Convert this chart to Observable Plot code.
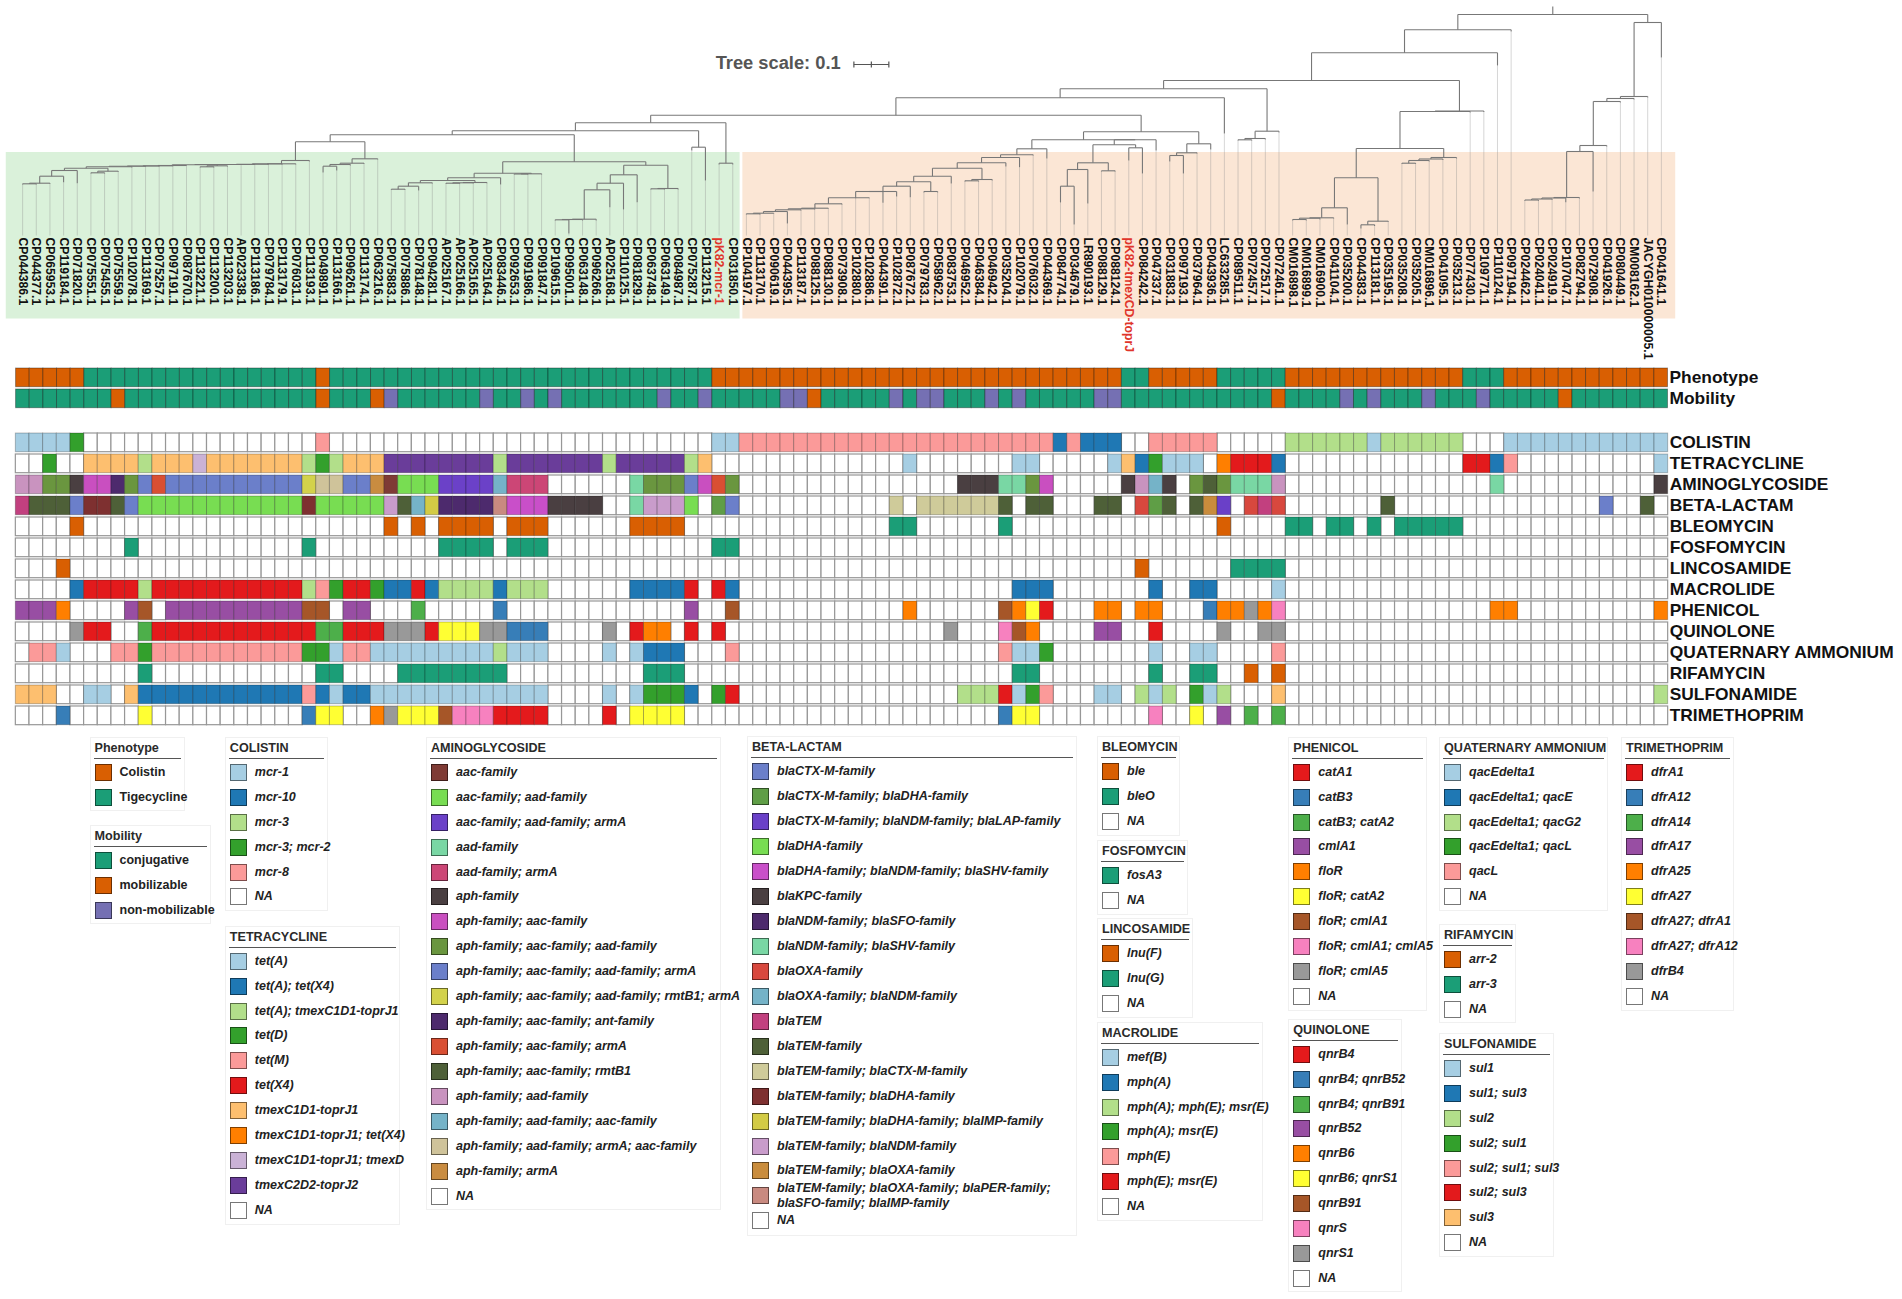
<!DOCTYPE html>
<html>
<head>
<meta charset="utf-8">
<script src="https://cdn.jsdelivr.net/npm/d3@7"></script>
<script src="https://cdn.jsdelivr.net/npm/@observablehq/plot@0.6"></script>
<style>
  html,body{margin:0;padding:0;background:#fff}
  #page{position:relative;width:1902px;height:1299px;font-family:"Liberation Sans",Arial,sans-serif;overflow:hidden}
  .slot{position:absolute;left:0}
  .panel{position:absolute;border:1px solid #f0f0f0;box-sizing:border-box;background:#fff}
  .panel .ttl{position:absolute;left:4px;top:2px;font:bold 12.6px/16px "Liberation Sans",Arial,sans-serif;color:#2a2a2a;white-space:nowrap}
  .panel .rule{position:absolute;left:3px;right:3px;top:20px;height:1px;background:#555}
  .panel .sw{position:absolute;left:4px;width:17px;height:17px;box-sizing:border-box;border:1.5px solid rgba(0,0,0,.5)}
  .panel .sw.na{border-color:#777}
  .panel .lb{position:absolute;left:29px;font:bold 12.5px/15px "Liberation Sans",Arial,sans-serif;color:#222;white-space:nowrap}
  .panel.it .lb{font-style:italic}
</style>
</head>
<body>
<div id="page"></div>
<script>
// ---------- tips (left to right) ----------
const tips = ["CP044386.1","CP044377.1","CP065953.1","CP119184.1","CP071820.1","CP075551.1","CP075455.1","CP075559.1","CP102078.1","CP113169.1","CP075257.1","CP097191.1","CP087670.1","CP113221.1","CP113200.1","CP113203.1","AP023338.1","CP113186.1","CP079784.1","CP113179.1","CP076031.1","CP113193.1","CP049891.1","CP113166.1","CP096261.1","CP113174.1","CP063216.1","CP075883.1","CP075886.1","CP078148.1","CP094281.1","AP025167.1","AP025166.1","AP025165.1","AP025164.1","CP083446.1","CP092653.1","CP091986.1","CP091847.1","CP109615.1","CP095001.1","CP063148.1","CP096266.1","AP025168.1","CP110125.1","CP081829.1","CP063748.1","CP063149.1","CP084987.1","CP075287.1","CP113215.1","pK82-mcr-1","CP031850.1","CP104197.1","CP113170.1","CP090619.1","CP044395.1","CP113187.1","CP088125.1","CP088130.1","CP073908.1","CP102880.1","CP102886.1","CP044391.1","CP102872.1","CP087672.1","CP079783.1","CP058962.1","CP083753.1","CP046952.1","CP046384.1","CP046942.1","CP035204.1","CP102079.1","CP076032.1","CP044369.1","CP084774.1","CP034679.1","LR890193.1","CP088129.1","CP088124.1","pK82-tmexCD-toprJ","CP084242.1","CP047337.1","CP031883.1","CP097193.1","CP037964.1","CP043936.1","LC633285.1","CP089511.1","CP072457.1","CP072517.1","CP072461.1","CM016898.1","CM016899.1","CM016900.1","CP041104.1","CP035200.1","CP044383.1","CP113181.1","CP035195.1","CP035208.1","CP035205.1","CM016896.1","CP041095.1","CP035213.1","CP077430.1","CP109771.1","CP110124.1","CP097194.1","CP024462.1","CP024041.1","CP024919.1","CP107047.1","CP082794.1","CP072908.1","CP041926.1","CP080449.1","CM008162.1","JACYGH010000005.1","CP041641.1"];
const referenceTips = ["pK82-mcr-1","pK82-tmexCD-toprJ"];

// ---------- tree: [node depth, child, child...]; a bare number is a tip's end depth ----------
const c01 = [182.7,[183.3,184,184],183.5];
const c4 = [170,[175.7,c01,181.7],182.7];
const c7 = [170.7,[172.3,173,173],171.5];
const c8 = [166.3,[167.7,c4,c7],167];
const c12 = [165,[165.3,[165.5,[165.7,c8,166.2],166],165.8],165.5];
const c15 = [165.3,[166.3,167,167],166];
const cladeS1 = [160,[163.3,[163.3,[163.7,[164,[164,[164.3,c12,c15],164.6],164.5],164.2],163.9],164],161];
const cladeS2 = [158.3,[162.7,[164,[165.7,172,170],165],163.5],159];
const cladeZ = [172.7,[177.3,[180,[182.3,[185.7,[188.7,189.5,189.5],190],183],[182,[182.3,[182.7,183.5,183.5],183],182.7]],184],[173.3,[173.5,174,174],174]];
const cladeV = [164.7,[174.3,[182.7,[189.3,[218.7,[219,[219.3,220,233],220],220],206.7],209],201.7],[188,[188.3,189,189],189]];
const nodeQ = [130.3,[134.3,[141.3,cladeS1,cladeS2],[161.3,cladeZ,cladeV]],[146.7,150,180]];
const nodeP = [122.3,nodeQ,[162.7,164,164]];

const c65 = [185.7,[191,[191,[197.3,[203.3,[207.7,[208.3,[209.3,[211,[212.7,[213.3,214,214],213.3],223],210],209],208.3],204],197.8,197.8],202.3],196],196.7];
const c68 = [175.7,[181.3,c65,[191,192,192]],183];
const c75 = [148.3,[154.3,[157,[162.3,[167.7,c68,[179,[180.3,181,181],180]],166],166.7],155],158];
const c80 = [162.3,[169,[185.7,202,224],203],[170.3,171,171]];
const c83 = [139.3,[144.3,c80,[147.3,160,173]],150];
const c87 = [143.3,[152.3,[155,161,173],153],149];
const node987 = [131.3,[139.3,c75,c83],c87];
const node806 = [97.3,[114.7,nodeP,node987],133];
const node1269 = [130.7,[138,[139.3,140,140],139],132];
const c97 = [207.3,[217.3,[217.7,[219,220,220],219],218],224];
const c100 = [220.7,[224.3,228,225.5],221.5];
const c105 = [157,[158.5,[160,[162.7,163.5,163.5],161],159.5],158];
const node415 = [110.5,[111,[148,[177.3,c97,c100],c105],112],111.5];
const nodeL1 = [29.3,[52.3,[80,[88.3,node806,node1269],node415],65],31];
const c114 = [197,[197.5,[198.5,[199.5,200.3,200.3],199.3],201.7],198];
const nodeR = [22,[96,[98,[101,[145,[151,c114,191],146],102],99],97],57];
const treeRoot = [14,nodeL1,nodeR];
const rootStubTop = 6;
const leaderEnd = 235, labelTop = 237;

// clade tints
const tints = [
  {x1:-1.2, x2:52.54, y1:152, y2:318.5, fill:"#daf1da"},
  {x1:52.74, x2:121.05, y1:152, y2:318.5, fill:"#fbe6d5"}
];
// tree scale annotation
const scaleBar = {x1:60.87, x2:63.43, y:64, tick:3};
const scaleLabel = {x:50.75, y:63, text:"Tree scale: 0.1"};

// ---------- categories ----------
const dark2 = {orange:"#d95f02", green:"#1b9e77", purple:"#7570b3"};
const paired = ["#a6cee3","#1f78b4","#b2df8a","#33a02c","#fb9a99","#e31a1c","#fdbf6f","#ff7f00","#cab2d6","#6a3d9a"];
const set1 = ["#e41a1c","#377eb8","#4daf4a","#984ea3","#ff7f00","#ffff33","#a65628","#f781bf","#999999"];

const phenotypeCats = ["Colistin","Tigecycline"];
const mobilityCats = ["conjugative","mobilizable","non-mobilizable"];
const colistinCats = ["mcr-1","mcr-10","mcr-3","mcr-3; mcr-2","mcr-8"];
const tetraCats = ["tet(A)","tet(A); tet(X4)","tet(A); tmexC1D1-toprJ1","tet(D)","tet(M)","tet(X4)","tmexC1D1-toprJ1","tmexC1D1-toprJ1; tet(X4)","tmexC1D1-toprJ1; tmexD","tmexC2D2-toprJ2"];
const aminoCats = ["aac-family","aac-family; aad-family","aac-family; aad-family; armA","aad-family","aad-family; armA","aph-family","aph-family; aac-family","aph-family; aac-family; aad-family","aph-family; aac-family; aad-family; armA","aph-family; aac-family; aad-family; rmtB1; armA","aph-family; aac-family; ant-family","aph-family; aac-family; armA","aph-family; aac-family; rmtB1","aph-family; aad-family","aph-family; aad-family; aac-family","aph-family; aad-family; armA; aac-family","aph-family; armA"];
const aminoColors = ["#7f3b35","#78dd52","#6b41c8","#79d7a4","#cc4676","#4a3f41","#c94fc0","#6a963f","#6b7fca","#d3d24b","#4d2a6d","#d94f33","#4e6038","#c993bf","#75b3c8","#cfc39a","#c98c40"];
const betaCats = ["blaCTX-M-family","blaCTX-M-family; blaDHA-family","blaCTX-M-family; blaNDM-family; blaLAP-family","blaDHA-family","blaDHA-family; blaNDM-family; blaSHV-family","blaKPC-family","blaNDM-family; blaSFO-family","blaNDM-family; blaSHV-family","blaOXA-family","blaOXA-family; blaNDM-family","blaTEM","blaTEM-family","blaTEM-family; blaCTX-M-family","blaTEM-family; blaDHA-family","blaTEM-family; blaDHA-family; blaIMP-family","blaTEM-family; blaNDM-family","blaTEM-family; blaOXA-family","blaTEM-family; blaOXA-family; blaPER-family;\nblaSFO-family; blaIMP-family"];
const betaColors = ["#6b7fca","#5f9e46","#6a40c8","#78dd52","#c94fc9","#4a3f41","#4d2a6d","#79d7a4","#d8483e","#75b3c8","#c2407f","#4e6038","#cfcb9a","#7e3030","#d3cb45","#c99ccb","#c98c3c","#c98a80"];
const bleoCats = ["ble","bleO"];
const fosfoCats = ["fosA3"];
const lincoCats = ["lnu(F)","lnu(G)"];
const macroCats = ["mef(B)","mph(A)","mph(A); mph(E); msr(E)","mph(A); msr(E)","mph(E)","mph(E); msr(E)"];
const phenicolCats = ["catA1","catB3","catB3; catA2","cmlA1","floR","floR; catA2","floR; cmlA1","floR; cmlA1; cmlA5","floR; cmlA5"];
const quinoCats = ["qnrB4","qnrB4; qnrB52","qnrB4; qnrB91","qnrB52","qnrB6","qnrB6; qnrS1","qnrB91","qnrS","qnrS1"];
const quatCats = ["qacEdelta1","qacEdelta1; qacE","qacEdelta1; qacG2","qacEdelta1; qacL","qacL"];
const rifCats = ["arr-2","arr-3"];
const sulfCats = ["sul1","sul1; sul3","sul2","sul2; sul1","sul2; sul1; sul3","sul2; sul3","sul3"];
const trimCats = ["dfrA1","dfrA12","dfrA14","dfrA17","dfrA25","dfrA27","dfrA27; dfrA1","dfrA27; dfrA12","dfrB4"];

// ---------- values: [category index, first column, last column]; uncovered columns are NA ----------
const phenotypeSpans = [[0,0,4],[1,5,21],[0,22,22],[1,23,50],[0,51,80],[1,81,82],[0,83,87],[1,88,92],[0,93,105],[1,106,108],[0,109,120]];
const mobilitySpans = [[0,0,120],[1,7,7],[1,22,22],[1,26,26],[2,27,27],[2,34,34],[2,37,37],[2,39,39],[2,47,47],[2,50,50],[2,56,57],[1,58,58],[2,64,64],[2,66,67],[2,71,71],[2,73,73],[2,79,80],[1,92,92],[2,97,97],[2,99,99],[2,103,103],[2,107,107],[1,113,113]];
const colistinSpans = [[0,0,3],[3,4,4],[4,22,22],[0,51,52],[4,53,75],[1,76,76],[4,77,77],[1,78,80],[4,83,87],[2,93,98],[0,99,99],[2,100,105],[0,109,120]];
const tetraSpans = [[3,2,2],[6,5,8],[2,9,9],[6,10,12],[8,13,13],[6,14,20],[2,21,21],[3,22,22],[2,23,23],[6,24,26],[9,27,34],[2,35,35],[9,36,42],[2,43,43],[9,44,48],[2,49,49],[6,50,50],[0,65,65],[0,73,74],[0,80,80],[6,81,81],[1,82,82],[3,83,83],[0,84,86],[7,88,88],[5,89,91],[1,92,92],[5,106,107],[1,108,108],[4,109,109],[0,120,120]];
const aminoSpans = [[13,0,1],[7,2,3],[5,4,4],[6,5,6],[10,7,7],[7,8,8],[8,9,9],[11,10,10],[8,11,20],[9,21,21],[15,22,23],[8,24,25],[16,26,26],[0,27,27],[1,28,30],[2,31,34],[14,35,35],[4,36,38],[3,45,45],[7,46,48],[8,49,49],[6,50,50],[11,51,51],[7,52,52],[5,69,71],[3,72,73],[7,74,74],[6,75,75],[5,81,81],[13,82,82],[14,83,83],[5,84,84],[7,86,86],[12,87,87],[7,88,88],[3,89,91],[13,92,92],[3,108,108],[5,120,120]];
const betaSpans = [[10,0,0],[11,1,3],[0,4,4],[13,5,6],[11,7,7],[0,8,8],[3,9,20],[13,21,21],[3,22,26],[15,27,27],[11,28,28],[9,29,29],[14,30,30],[6,31,34],[17,35,35],[4,36,38],[5,39,42],[7,45,45],[15,46,48],[3,49,49],[1,51,51],[0,52,52],[12,64,64],[12,66,71],[11,72,72],[11,74,75],[11,79,80],[8,82,82],[1,83,83],[11,84,84],[11,86,86],[16,87,87],[2,88,88],[8,90,90],[10,91,91],[8,92,92],[11,100,100],[0,116,116],[11,119,119]];
const bleoSpans = [[0,4,4],[0,27,27],[0,29,29],[0,31,34],[0,36,38],[0,45,48],[1,64,65],[1,72,72],[0,88,88],[1,93,94],[1,96,97],[1,99,99],[1,101,105]];
const fosfoSpans = [[0,8,8],[0,21,21],[0,31,34],[0,36,38],[0,51,52]];
const lincoSpans = [[0,3,3],[0,82,82],[1,89,92]];
const macroSpans = [[1,4,4],[5,5,8],[2,9,9],[5,10,20],[2,21,21],[4,22,22],[3,23,23],[5,24,25],[3,26,26],[1,27,28],[5,29,29],[1,30,30],[2,31,34],[1,35,35],[2,36,38],[1,45,48],[5,49,49],[5,51,51],[1,52,52],[1,73,75],[1,83,83],[1,86,87],[0,92,92]];
const phenicolSpans = [[3,0,2],[4,3,3],[3,8,8],[6,9,9],[3,11,20],[6,21,22],[3,24,25],[2,29,29],[1,35,35],[3,49,49],[6,52,52],[4,65,65],[6,72,72],[4,73,73],[5,74,74],[0,75,75],[4,79,80],[4,82,83],[1,87,87],[4,88,89],[8,90,90],[4,91,91],[7,92,92],[4,108,109],[4,120,120]];
const quinoSpans = [[8,4,4],[0,5,6],[2,9,9],[0,10,21],[2,22,23],[0,24,26],[8,27,29],[0,30,30],[5,31,33],[8,34,35],[1,36,38],[8,43,43],[0,45,45],[4,46,47],[0,49,49],[0,51,51],[8,68,68],[7,72,72],[6,73,73],[4,74,74],[3,79,80],[0,83,83],[8,88,88],[8,91,92]];
const quatSpans = [[4,1,2],[0,3,3],[4,7,8],[3,9,9],[4,10,20],[3,21,22],[0,23,23],[4,24,25],[0,26,34],[2,35,35],[0,36,38],[0,43,43],[0,45,45],[1,46,48],[4,52,52],[4,72,72],[0,73,74],[3,75,75],[0,83,83],[0,86,87],[4,92,92]];
const rifSpans = [[1,9,9],[1,22,23],[1,28,35],[1,46,48],[1,73,74],[1,83,83],[1,86,87],[0,90,90],[0,92,92]];
const sulfSpans = [[6,0,2],[0,5,6],[6,8,8],[1,9,20],[4,21,21],[1,22,22],[0,23,23],[1,24,25],[0,26,38],[0,43,43],[0,45,45],[3,46,48],[1,49,49],[3,51,51],[5,52,52],[2,69,71],[5,72,72],[0,73,73],[3,74,74],[4,75,75],[0,79,80],[2,82,82],[0,83,83],[2,84,84],[3,86,86],[0,87,87],[2,88,88],[6,92,92],[2,120,120]];
const trimSpans = [[1,3,3],[5,9,9],[1,21,21],[5,22,23],[4,26,26],[8,27,27],[5,28,30],[6,31,31],[7,32,34],[0,35,38],[0,43,43],[5,45,48],[1,72,72],[5,73,74],[7,83,83],[5,86,86],[3,88,88],[2,90,90],[2,92,92]];

// row tables
const annotRows = [
  {row:"Phenotype",cats:phenotypeCats,colors:[dark2.orange,dark2.green],spans:phenotypeSpans},
  {row:"Mobility",cats:mobilityCats,colors:[dark2.green,dark2.orange,dark2.purple],spans:mobilitySpans}
];
const amrRows = [
  {row:"COLISTIN",cats:colistinCats,colors:paired,spans:colistinSpans},
  {row:"TETRACYCLINE",cats:tetraCats,colors:paired,spans:tetraSpans},
  {row:"AMINOGLYCOSIDE",cats:aminoCats,colors:aminoColors,spans:aminoSpans},
  {row:"BETA-LACTAM",cats:betaCats,colors:betaColors,spans:betaSpans},
  {row:"BLEOMYCIN",cats:bleoCats,colors:[dark2.orange,dark2.green],spans:bleoSpans},
  {row:"FOSFOMYCIN",cats:fosfoCats,colors:[dark2.green],spans:fosfoSpans},
  {row:"LINCOSAMIDE",cats:lincoCats,colors:[dark2.orange,dark2.green],spans:lincoSpans},
  {row:"MACROLIDE",cats:macroCats,colors:paired,spans:macroSpans},
  {row:"PHENICOL",cats:phenicolCats,colors:set1,spans:phenicolSpans},
  {row:"QUINOLONE",cats:quinoCats,colors:set1,spans:quinoSpans},
  {row:"QUATERNARY AMMONIUM",cats:quatCats,colors:paired,spans:quatSpans},
  {row:"RIFAMYCIN",cats:rifCats,colors:[dark2.orange,dark2.green],spans:rifSpans},
  {row:"SULFONAMIDE",cats:sulfCats,colors:paired,spans:sulfSpans},
  {row:"TRIMETHOPRIM",cats:trimCats,colors:set1,spans:trimSpans}
];

// legend panel layout
const legendPanels = [
  {name:"Phenotype",x:89.5,y:736.7,w:95.5,h:74.6,step:24.9,italic:false,na:false},
  {name:"Mobility",x:89.5,y:824.7,w:121,h:99.3,step:24.9,italic:false,na:false},
  {name:"COLISTIN",x:224.8,y:736.7,w:103.7,h:174.6,step:24.93},
  {name:"TETRACYCLINE",x:224.8,y:925.7,w:175.7,h:299.3,step:24.9},
  {name:"AMINOGLYCOSIDE",x:426,y:736.7,w:295,h:473.6,step:24.94},
  {name:"BETA-LACTAM",x:747,y:736.2,w:330,h:499.4,step:24.95},
  {name:"BLEOMYCIN",x:1097,y:736.2,w:83,h:99.9,step:24.87},
  {name:"FOSFOMYCIN",x:1097,y:840.2,w:91.2,h:75.1,step:24.87},
  {name:"LINCOSAMIDE",x:1097,y:918,w:95.5,h:99.9,step:24.87},
  {name:"MACROLIDE",x:1097,y:1021.7,w:166,h:199.4,step:24.87},
  {name:"PHENICOL",x:1288.3,y:736.5,w:138.7,h:274.3,step:24.96},
  {name:"QUINOLONE",x:1288.3,y:1018.5,w:114,h:273.9,step:24.96},
  {name:"QUATERNARY AMMONIUM",x:1439,y:736.5,w:169.3,h:174.9,step:24.96},
  {name:"RIFAMYCIN",x:1439,y:924,w:77,h:99,step:24.96},
  {name:"SULFONAMIDE",x:1439,y:1032.6,w:115.3,h:224.6,step:24.96},
  {name:"TRIMETHOPRIM",x:1621,y:736.5,w:113.3,h:274.3,step:24.96}
];

// ---------- shared layout ----------
const W = 1902, gridLeft = 15.3, gridRight = 1667.7;
const marginRight = W - gridRight;
const font = '"Liberation Sans",Arial,sans-serif';
const page = document.getElementById("page");
function place(el, top){ const d=document.createElement("div"); d.className="slot"; d.style.top=top+"px"; d.appendChild(el); page.appendChild(d); }

// ---------- tree ----------
const branches = [], leaders = [];
let nextTip = 0;
function layout(node, parentDepth){
  if (typeof node === "number"){
    const x = nextTip++;
    branches.push({x1:x,y1:parentDepth,x2:x,y2:node});
    leaders.push({x1:x,y1:node,x2:x,y2:leaderEnd});
    return x;
  }
  const d = node[0];
  const xs = node.slice(1).map(c=>layout(c,d));
  const x = xs.length%2 ? xs[(xs.length-1)/2] : (xs[0]+xs[xs.length-1])/2;
  branches.push({x1:xs[0],y1:d,x2:xs[xs.length-1],y2:d});
  branches.push({x1:x,y1:parentDepth,x2:x,y2:d});
  return x;
}
layout(treeRoot, rootStubTop);
if (nextTip !== tips.length) console.error("tip count", nextTip);

const labels = tips.map((t,i)=>({t,i,ref:referenceTips.includes(t)}));
const treePlot = Plot.plot({
  width:W, height:366, marginLeft:gridLeft, marginRight, marginTop:0, marginBottom:0,
  style:{fontFamily:font, background:"transparent"},
  x:{type:"linear",domain:[-0.5,120.5],axis:null},
  y:{type:"linear",domain:[0,366],range:[0,366],axis:null},
  marks:[
    Plot.rect(tints,{x1:"x1",x2:"x2",y1:"y1",y2:"y2",fill:"fill"}),
    Plot.link(leaders,{x1:"x1",y1:"y1",x2:"x2",y2:"y2",stroke:"#8d8d8d",strokeOpacity:.4,strokeWidth:.9}),
    Plot.link(branches,{x1:"x1",y1:"y1",x2:"x2",y2:"y2",stroke:"#777",strokeWidth:1.1}),
    Plot.text(labels,{x:"i",y:()=>labelTop,text:"t",rotate:90,textAnchor:"start",fontSize:12.2,fontWeight:"bold",
      fill:d=>d.ref?"#e0352b":"#111"}),
    Plot.text([scaleLabel],{x:"x",y:"y",text:"text",textAnchor:"start",fontSize:18.3,fontWeight:"bold",fill:"#555"}),
    Plot.link([scaleBar],{x1:"x1",x2:"x2",y1:"y",y2:"y",stroke:"#555",strokeWidth:1.2}),
    Plot.link([scaleBar.x1,(scaleBar.x1+scaleBar.x2)/2,scaleBar.x2],{x1:d=>d,x2:d=>d,y1:scaleBar.y-scaleBar.tick,y2:scaleBar.y+scaleBar.tick,stroke:"#555",strokeWidth:1.2})
  ]
});
place(treePlot,0);

// ---------- heat rows ----------
function expand(rows){
  const out=[];
  for(const r of rows){
    const col = new Array(tips.length).fill(null);
    for(const [c,a,b] of r.spans) for(let i=a;i<=b;i++) col[i]=c;
    col.forEach((c,i)=>out.push({tip:i+":"+tips[i],row:r.row,cat:c,key:c===null?"NA":r.row+"|"+r.cats[c]}));
  }
  return out;
}
const colorDomain=[], colorRange=[];
for(const r of [...annotRows,...amrRows]) r.cats.forEach((c,i)=>{colorDomain.push(r.row+"|"+c);colorRange.push(r.colors[i]);});
const xDomain = tips.map((t,i)=>i+":"+t);

function heat(rows, opts){
  const cells = expand(rows);
  const step = 21, gap = 2.3;
  const pad = 2;
  const h = rows.length*step - gap + pad*2;
  return Plot.plot({
    width:W, height:h, marginLeft:gridLeft, marginRight, marginTop:pad, marginBottom:pad,
    style:{fontFamily:font, background:"transparent"},
    x:{type:"band",domain:xDomain,padding:0,round:false,axis:null},
    y:{type:"band",domain:rows.map(r=>r.row),paddingInner:gap/step,paddingOuter:0,round:false,axis:null},
    color:{type:"ordinal",domain:colorDomain,range:colorRange},
    marks:[
      Plot.cell(cells.filter(d=>d.cat===null),{x:"tip",y:"row",fill:"white",stroke:"#979797",strokeWidth:1.2}),
      Plot.cell(cells.filter(d=>d.cat!==null),{x:"tip",y:"row",fill:"key",stroke:"#000",strokeOpacity:opts.edge,strokeWidth:1}),
      Plot.axisY({anchor:"right",tickSize:0,tickPadding:1.5,fontSize:17.4,fontWeight:"bold",fill:"#111",label:null})
    ]
  });
}
place(heat(annotRows,{edge:.35}), 366.3);
place(heat(amrRows,{edge:.25}), 431.3);

// ---------- legends ----------
const allRows = [...annotRows,...amrRows];
for(const p of legendPanels){
  const r = allRows.find(x=>x.row===p.name);
  const el=document.createElement("div");
  el.className="panel"+(p.italic===false?"":" it");
  el.style.cssText=`left:${p.x}px;top:${p.y}px;width:${p.w}px;height:${p.h}px`;
  el.innerHTML=`<div class="ttl"></div><div class="rule"></div>`;
  el.querySelector(".ttl").textContent=p.name;
  const items=r.cats.map((c,i)=>({c,color:r.colors[i]}));
  if(p.na!==false) items.push({c:"NA",color:"#fff",na:true});
  items.forEach((it,i)=>{
    const cy=34.6+i*p.step;
    const sw=document.createElement("div");
    sw.className="sw"+(it.na?" na":"");
    sw.style.top=(cy-8.5)+"px"; sw.style.background=it.color;
    const lb=document.createElement("div");
    lb.className="lb";
    const lines=it.c.split("\n");
    lines.forEach((ln,k)=>{ if(k) lb.appendChild(document.createElement("br")); lb.appendChild(document.createTextNode(ln)); });
    lb.style.top=(cy-7.5*lines.length)+"px";
    el.appendChild(sw); el.appendChild(lb);
  });
  page.appendChild(el);
}
</script>
</body>
</html>
